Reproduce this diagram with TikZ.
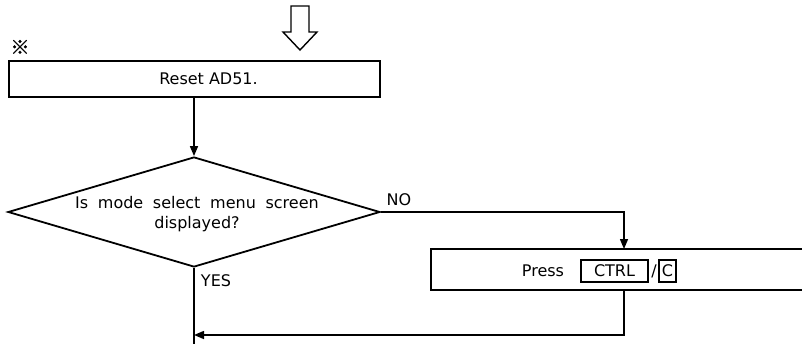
\documentclass[tikz,border=0pt]{standalone}
\usepackage{fontspec}
\setmainfont{DejaVu Sans}
\newfontfamily\diafont{DejaVu Sans}[WordSpace=1.9]
\newfontfamily\markfont{Noto Sans CJK JP}[FakeBold=1.5]
\usetikzlibrary{shapes.geometric,arrows.meta}
\tikzset{
  boxline/.style={draw=black,line width=2pt},
  procbox/.style={boxline,rectangle,inner sep=0pt},
  decbox/.style={draw=black,line width=1.8pt,diamond,inner sep=0pt},
  conn/.style={draw=black,line width=1.5pt},
  arr/.style={conn,-{Triangle[length=10pt,width=8pt]}},
  txt/.style={font=\fontsize{16}{19}\selectfont,inner sep=0pt},
  keybox/.style={draw=black,line width=1.5pt,font=\fontsize{16}{19}\selectfont,inner sep=1pt,minimum height=22pt},
}
\begin{document}
\begin{tikzpicture}[x=1pt,y=-1pt]
\useasboundingbox (0,0) rectangle (802,343);
\clip (0,0) rectangle (802,343);
% hollow entry arrow
\draw[line width=1.4pt,line join=miter] (291,6) -- (309,6) -- (309,32) -- (317,32) -- (300,50) -- (283,32) -- (291,32) -- cycle;
\node[inner sep=0pt,font=\markfont\fontsize{19}{19}\selectfont] (mark) at (20,47) {※};
% reset box
\node[procbox,minimum width=371pt,minimum height=36pt] (reset) at (194.5,79) {};
\node[txt] (resettxt) at (208.5,79) {Reset AD51.};
% decision
\node[decbox,minimum width=372pt,minimum height=110pt,aspect=3.38] (dia) at (194,212) {};
\node[txt,font=\diafont\fontsize{16}{19}\selectfont,align=center] (diatxt) at (197,214) {Is mode select menu screen\\[1pt]displayed?};
% press box
\node[procbox,minimum width=470pt,minimum height=41pt] (press) at (666,269.5) {};
\node[txt] (presstxt) at (543,271) {Press};
\node[keybox,minimum width=67pt] (kctrl) at (614.5,271) {CTRL};
\node[txt] (slash) at (654,271) {/};
\node[keybox,minimum width=17pt] (kc) at (667.5,271) {C};
% coordinates
\coordinate (pin) at (624,249);
\coordinate (pout) at (624,290);
\coordinate (ret) at (624,335);
\coordinate (join) at (194,335);
\coordinate (bot) at (194,360);
% connectors
\draw[arr] (reset.south -| dia.north) -- (dia.north);
\draw[arr] (dia.east) -| (pin);
\draw[conn] (dia.south) -- (bot);
\draw[arr] (pout) -- (ret) -- (join);
% labels
\node[txt] (nolab) at (399,200) {NO};
\node[txt] (yeslab) at (216,281) {YES};
\end{tikzpicture}
\end{document}
